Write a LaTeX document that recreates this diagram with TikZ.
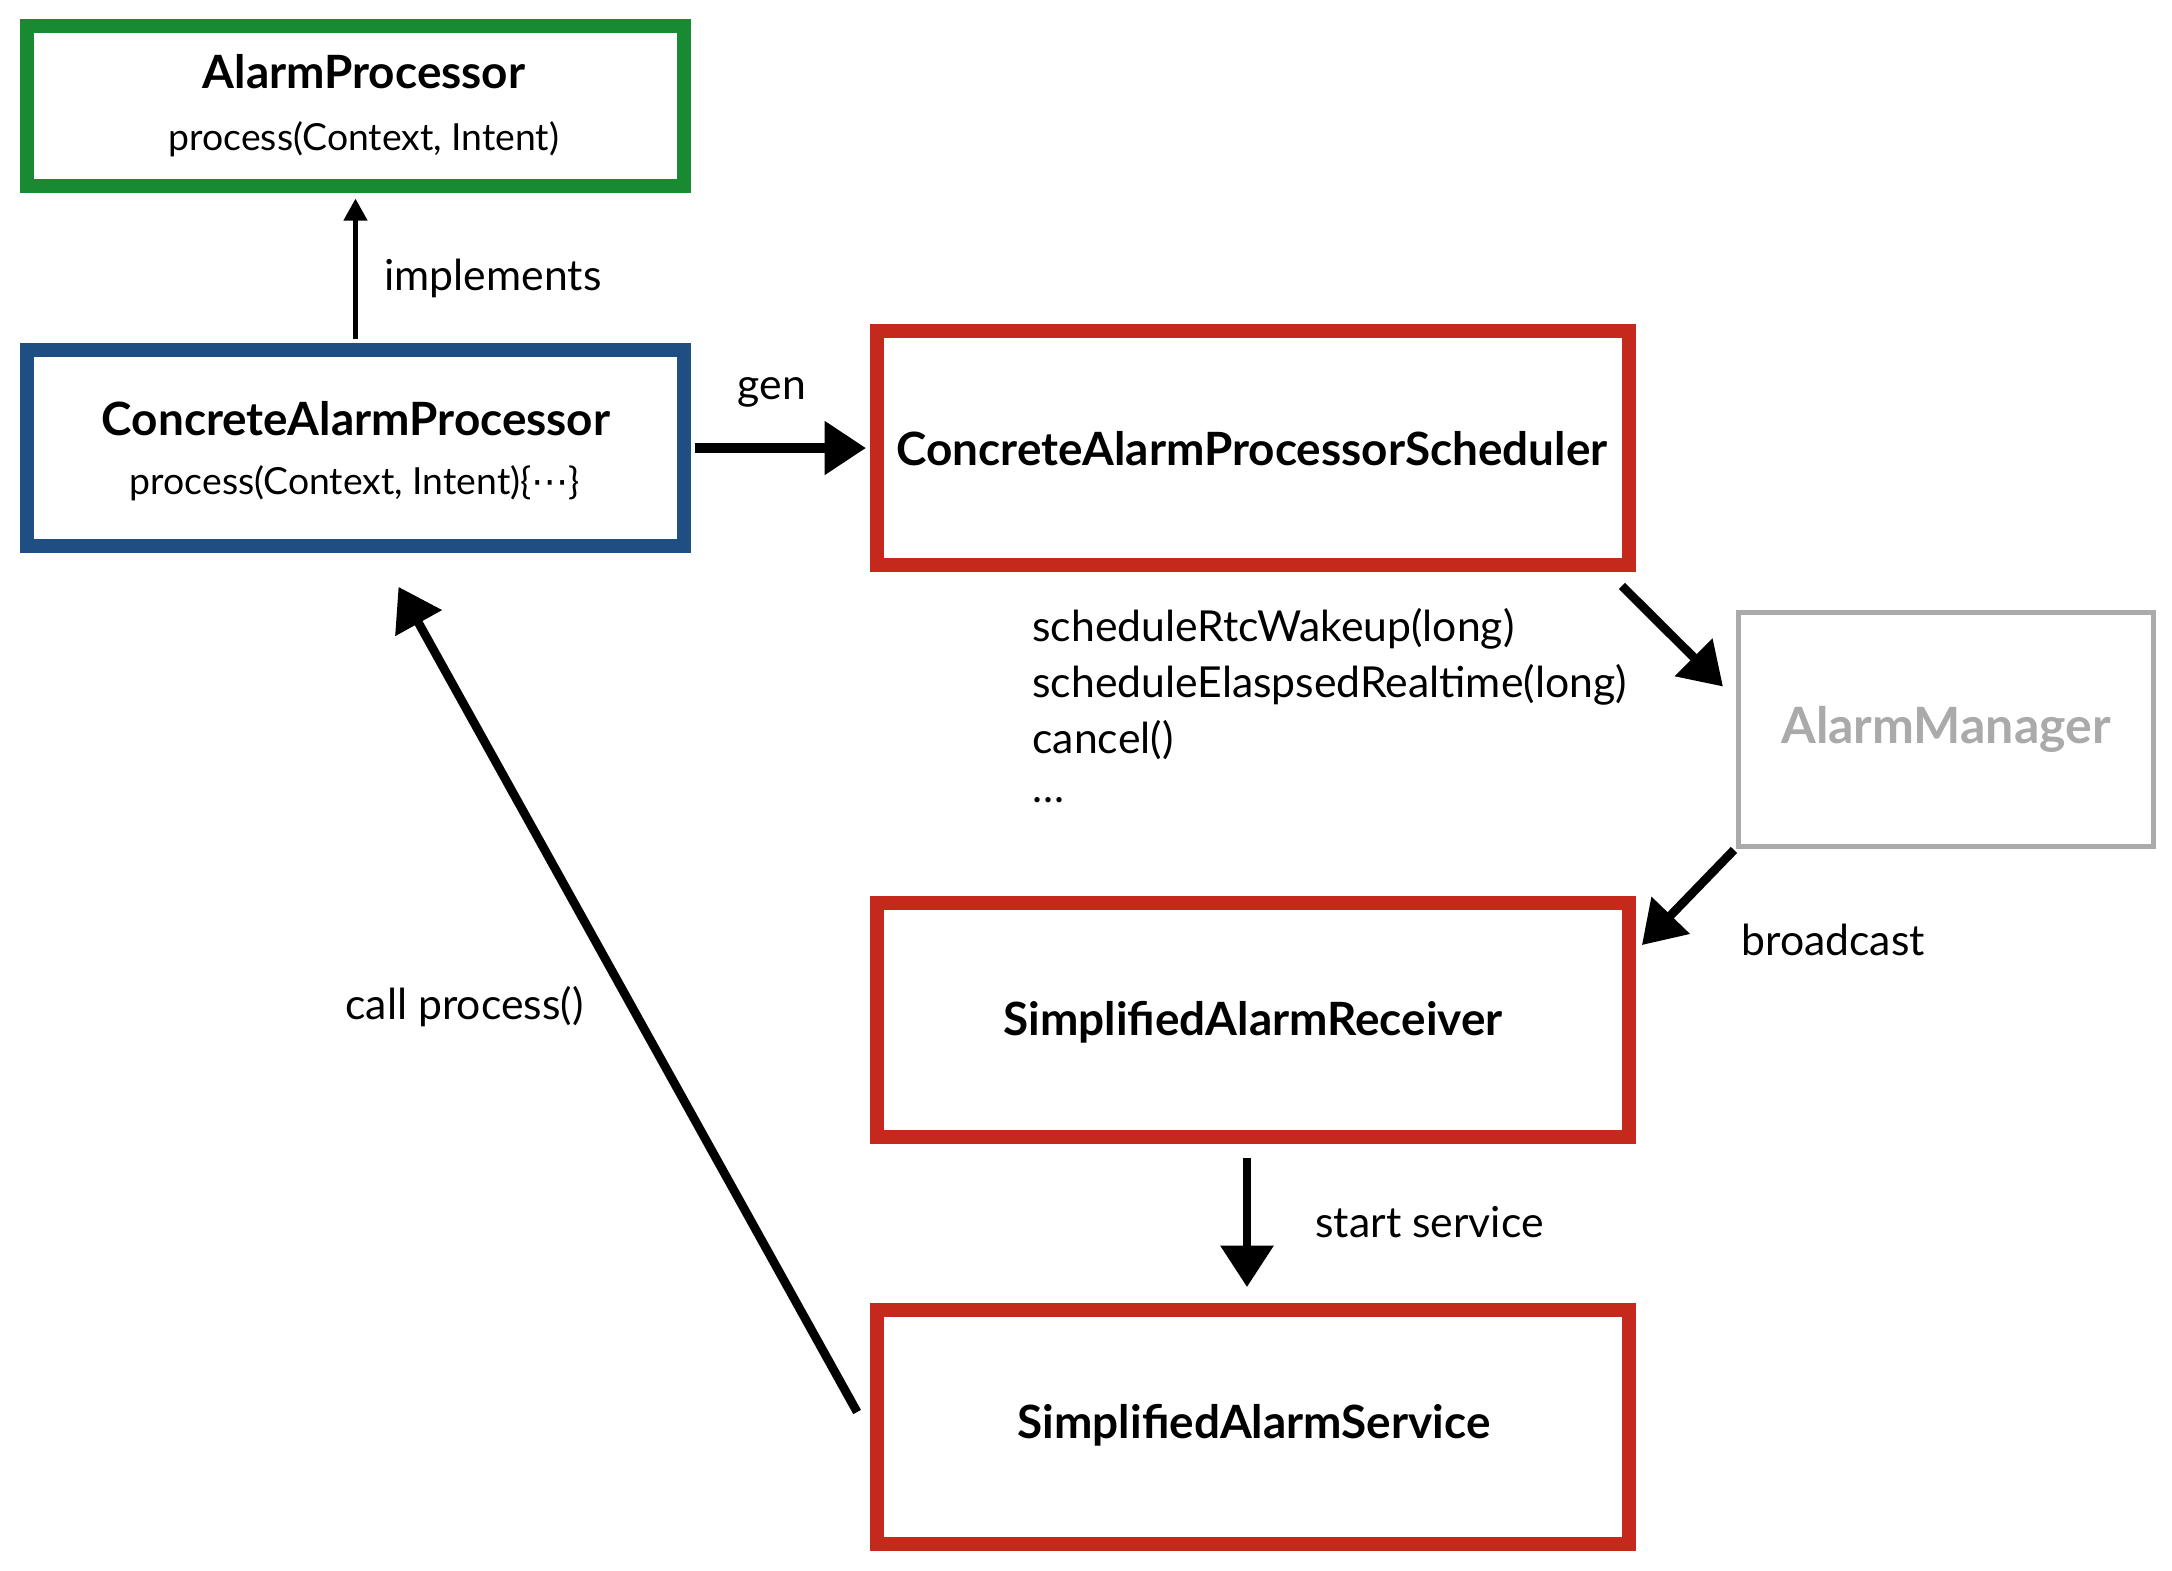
\documentclass[tikz,border=0pt]{standalone}
\usepackage{fontspec}
\setmainfont{Lato}
\newfontfamily\dejavu{DejaVu Sans}
\usetikzlibrary{arrows.meta}
\definecolor{ifgreen}{HTML}{178A32}
\definecolor{implblue}{HTML}{1F4F82}
\definecolor{alarmred}{HTML}{C4291C}
\definecolor{sysgray}{HTML}{AAAAAA}

\begin{document}
\begin{tikzpicture}[x=0.0144cm, y=-0.0144cm,
    box/.style={draw, line width=5.7pt, inner sep=0pt, minimum width=9.46cm, minimum height=2.3cm},
    redbox/.style={box, draw=alarmred, minimum width=10.83cm, minimum height=3.37cm},
    title/.style={font=\fontsize{18.8}{22}\selectfont\bfseries, inner sep=0pt},
    method/.style={font=\fontsize{15.3}{18}\selectfont, inner sep=0pt},
    lbl/.style={font=\fontsize{17.5}{23}\selectfont, inner sep=0pt, anchor=west},
    call/.style={line width=3.6pt, -{Triangle[length=17pt, width=21pt]}}]
      \useasboundingbox (0, 0) rectangle (2172, 1570);
      % boxes
      \node (proc) [box, draw=ifgreen] at (355.5, 106) {};
      \node (concrete) [box, draw=implblue, minimum height=2.82cm] at (355.5, 448) {};
      \node (sched) [redbox] at (1253, 448) {};
      \node (mgr) [draw=sysgray, line width=2pt, minimum width=5.98cm, minimum height=3.37cm,
                   text=sysgray, font=\fontsize{20.5}{24}\selectfont\bfseries] at (1946, 729.5) {AlarmManager};
      \node (recv) [redbox] at (1253, 1020) {};
      \node (serv) [redbox] at (1253, 1427) {};
      % texts inside
      \node (proctitle) [title] at (364, 72) {AlarmProcessor};
      \node (procmethod) [method] at (364, 139) {process(Context, Intent)};
      \node (concretetitle) [title] at (356, 419) {ConcreteAlarmProcessor};
      \node (concretemethod) [method] at (355, 483) {process(Context, Intent)\{{\dejavu ⋯}\}};
      \node (schedtitle) [title] at (1252, 449) {ConcreteAlarmProcessorScheduler};
      \node (recvtitle) [title] at (1253, 1022) {SimplifiedAlarmReceiver};
      \node (servtitle) [title] at (1254, 1425) {SimplifiedAlarmService};
      % labels
      \node (impl) [lbl] at (384, 278) {implements};
      \node (gen) [lbl, anchor=center] at (772, 392) {gen};
      \node (calls) [lbl, anchor=north west, align=left] at (1032, 608)
            {scheduleRtcWakeup(long)\\scheduleElaspsedRealtime(long)\\cancel()\\[-3pt]…};
      \node (bcast) [lbl] at (1741, 940) {broadcast};
      \node (start) [lbl] at (1315, 1222) {start service};
      \node (callproc) [lbl] at (345, 1007) {call process()};
      % connectors
      \draw[line width=1.7pt, -{Triangle[length=9pt, width=9.5pt]}, shorten <=1.6pt, shorten >=2.4pt]
            (concrete.north) -- (proc.south);
      \draw[call, line width=4.5pt] ([shift={(4, 0)}]concrete.east) -- ([shift={(-4, 0)}]sched.west);
      \draw[call] ([shift={(-14, 14)}]sched.south east) -- ([shift={(-13, -43)}]mgr.west);
      \draw[call] ([shift={(-2, 1)}]mgr.south west) -- ([shift={(6, 49)}]recv.north east);
      \draw[call] ([shift={(-6, 14)}]recv.south) -- ([shift={(-6, -16)}]serv.north);
      \draw[call] ([shift={(-13, -15)}]serv.west) -- ([shift={(43, 34)}]concrete.south);
\end{tikzpicture}
\end{document}
